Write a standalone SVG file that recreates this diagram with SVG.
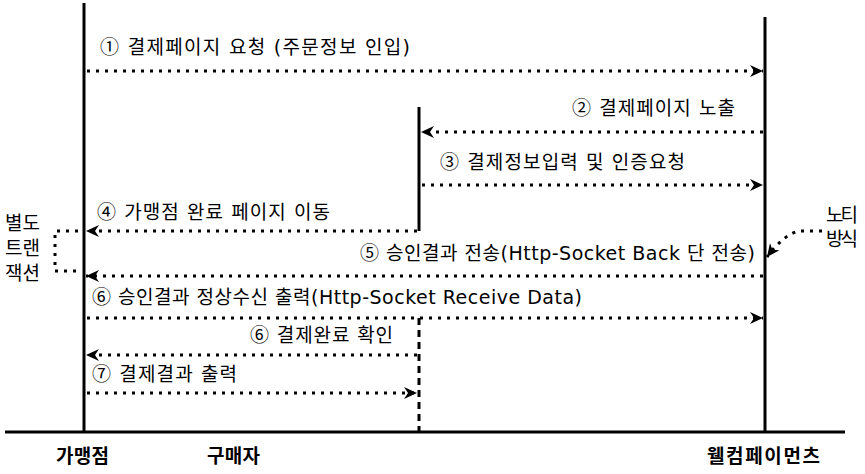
<svg xmlns="http://www.w3.org/2000/svg" width="865" height="474" viewBox="0 0 865 474">
<defs>
<style>
.life{stroke:#000;stroke-width:3;fill:none}
.msg{stroke:#000;stroke-width:3;fill:none;stroke-dasharray:3 6}
.lbl{font-family:"DejaVu Sans","Noto Sans CJK KR",sans-serif;font-size:19px;fill:#000}
.num{font-family:"Noto Sans CJK KR",sans-serif}
.name{font-family:"DejaVu Sans","Noto Sans CJK KR",sans-serif;font-size:19px;font-weight:bold;fill:#000}
</style>
<marker id="ah" markerUnits="userSpaceOnUse" markerWidth="14" markerHeight="12" refX="13" refY="6" orient="auto">
<path d="M0,0 L13,6 L0,12 L4,6 Z" fill="#000"/>
</marker>
</defs>
<rect width="865" height="474" fill="#fff"/>
<g id="lifelines">
<line class="life" x1="5" y1="432" x2="845" y2="432"/>
<line class="life" x1="84" y1="3" x2="84" y2="432"/>
<line class="life" x1="765" y1="17" x2="765" y2="432"/>
<line class="life" x1="419" y1="107" x2="419" y2="231"/>
<line class="life" x1="419" y1="318" x2="419" y2="432" stroke-dasharray="7 5"/>
</g>
<g id="connectors">
<line class="msg" x1="87" y1="71" x2="763" y2="71" marker-end="url(#ah)"/>
<line class="msg" x1="763" y1="132" x2="421" y2="132" marker-end="url(#ah)"/>
<line class="msg" x1="422" y1="185" x2="763" y2="185" marker-end="url(#ah)"/>
<line class="msg" x1="417" y1="231" x2="86" y2="231" marker-end="url(#ah)"/>
<line class="msg" x1="763" y1="276" x2="86" y2="276" marker-end="url(#ah)"/>
<line class="msg" x1="87" y1="318" x2="763" y2="318" marker-end="url(#ah)"/>
<line class="msg" x1="417" y1="355" x2="86" y2="355" marker-end="url(#ah)"/>
<line class="msg" x1="87" y1="393" x2="417" y2="393" marker-end="url(#ah)"/>
<path class="msg" d="M78,231 H55 V271 H78"/>
<path class="msg" d="M822,231 H800 Q785,233 767,257" marker-end="url(#ah)"/>
</g>
<g id="labels">
<text class="lbl" x="100" y="54" textLength="310" lengthAdjust="spacing"><tspan class="num">①</tspan> 결제페이지 요청 (주문정보 인입)</text>
<text class="lbl" x="572" y="115" textLength="163" lengthAdjust="spacing"><tspan class="num">②</tspan> 결제페이지 노출</text>
<text class="lbl" x="440" y="169" textLength="245" lengthAdjust="spacing"><tspan class="num">③</tspan> 결제정보입력 및 인증요청</text>
<text class="lbl" x="97" y="219" textLength="233" lengthAdjust="spacing"><tspan class="num">④</tspan> 가맹점 완료 페이지 이동</text>
<text class="lbl" x="360" y="260" textLength="395" lengthAdjust="spacing"><tspan class="num">⑤</tspan> 승인결과 전송(Http-Socket Back 단 전송)</text>
<text class="lbl" x="92" y="304" textLength="490" lengthAdjust="spacing"><tspan class="num">⑥</tspan> 승인결과 정상수신 출력(Http-Socket Receive Data)</text>
<text class="lbl" x="250" y="342" textLength="143" lengthAdjust="spacing"><tspan class="num">⑥</tspan> 결제완료 확인</text>
<text class="lbl" x="92" y="381" textLength="145" lengthAdjust="spacing"><tspan class="num">⑦</tspan> 결제결과 출력</text>
<text class="lbl" x="5" y="230" textLength="35" lengthAdjust="spacing">별도</text>
<text class="lbl" x="5" y="255" textLength="35" lengthAdjust="spacing">트랜</text>
<text class="lbl" x="5" y="280" textLength="35" lengthAdjust="spacing">잭션</text>
<text class="lbl" x="826" y="222" textLength="32" lengthAdjust="spacing">노티</text>
<text class="lbl" x="826" y="246" textLength="32" lengthAdjust="spacing">방식</text>
</g>
<g id="node-merchant"><text class="name" x="56" y="463" textLength="53" lengthAdjust="spacing">가맹점</text></g>
<g id="node-buyer"><text class="name" x="207" y="463" textLength="53" lengthAdjust="spacing">구매자</text></g>
<g id="node-welcome"><text class="name" x="707" y="463" textLength="113" lengthAdjust="spacing">웰컴페이먼츠</text></g>
</svg>
